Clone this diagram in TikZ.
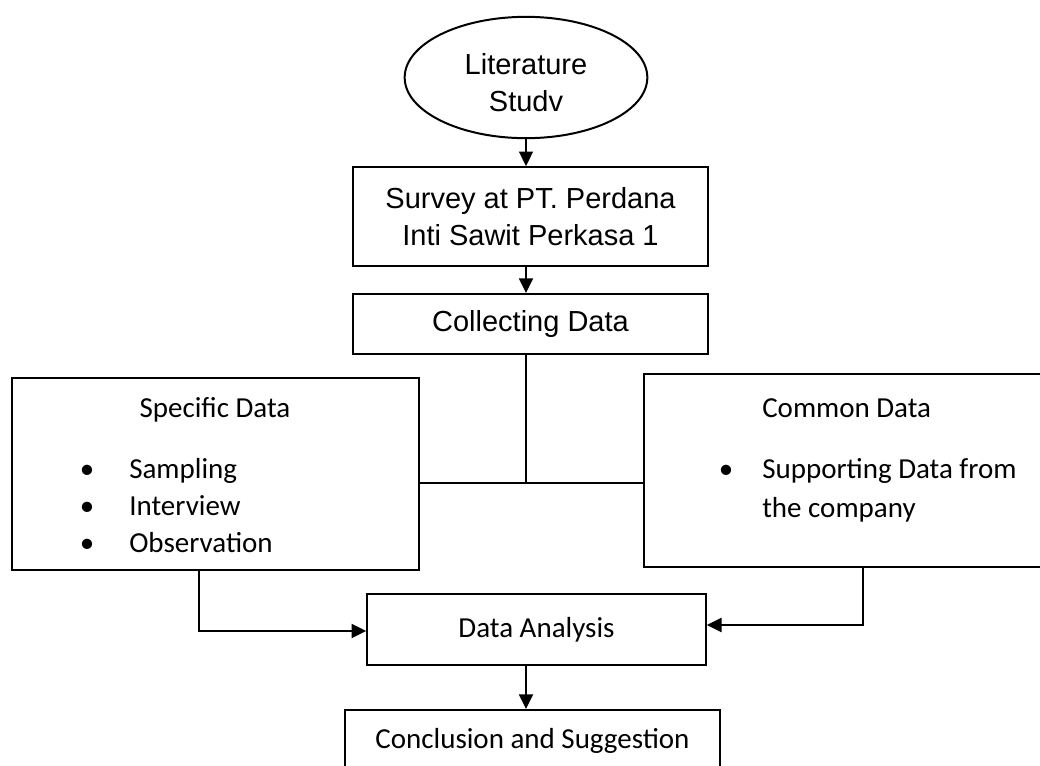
\documentclass[tikz,border=0pt]{standalone}
\usepackage{fontspec}
\setmainfont{Carlito}
\newfontfamily\arialfont{Liberation Sans}
\usetikzlibrary{arrows.meta,shapes.geometric}

\begin{document}
\begin{tikzpicture}[x=0.75pt, y=-0.75pt,
  box/.style={draw, line width=1.5pt, inner sep=0pt},
  txt/.style={inner sep=0pt, font=\fontsize{21.75}{27.75}\selectfont},
  sans/.style={inner sep=0pt, align=center, font=\arialfont\fontsize{21.75}{27.75}\selectfont},
  arr/.style={-{Triangle[length=11pt,width=10.5pt]}, line width=1.2pt},
  thickarr/.style={arr, line width=1.5pt},
  link/.style={line width=0.9pt}]
  \useasboundingbox (0,0) rectangle (1040,765);
  % top chain
  \node[box, ellipse, minimum width=182pt, minimum height=91pt] (lit) at (526,77.5) {};
  \node[sans, yshift=-3.5pt] (littext) at (lit) {Literature\\Studv};
  \node[box, sans, minimum width=266pt, minimum height=74pt] (survey) at (530.5,216.5) {Survey at PT. Perdana\\Inti Sawit Perkasa 1};
  \node[box, sans, minimum width=266pt, minimum height=45pt] (collect) at (530.5,324) {Collecting Data};
  % the two data boxes
  \node[box, minimum width=305pt, minimum height=144pt] (spec) at (215.5,474) {};
  \node[box, minimum width=300pt, minimum height=145pt] (common) at (844,470.5) {};
  \node[txt, anchor=base] (spechead) at (215,417) {Specific Data};
  \foreach \entry [count=\i] in {Sampling, Interview, Observation} {
    \node[txt, anchor=base] (specdot\i) at (87,{441+37*\i}) {\textbullet};
    \node[txt, anchor=base west] (spec\i) at (129,{441+37*\i}) {\entry};
  }
  \node[txt, anchor=base west] (comhead) at (762,417) {Common Data};
  \node[txt, anchor=base] (comdot) at (726,478) {\textbullet};
  \node[txt, anchor=base west] (com1) at (762,478) {Supporting Data from};
  \node[txt, anchor=base west] (com2) at (762,517) {the company};
  % bottom chain
  \node[box, txt, minimum width=254pt, minimum height=53pt] (ana) at (536.5,629.5) {Data Analysis};
  \node[box, txt, minimum width=281pt, minimum height=46.5pt] (concl) at (532.5,741) {Conclusion and Suggestion};
  % connectors
  \draw[arr] (lit.south) -- (lit.south |- survey.north);
  \draw[arr] (lit.south |- survey.south) -- (lit.south |- collect.north);
  \coordinate (jn) at (526,483);
  \draw[link] (lit.south |- collect.south) -- (jn);
  \draw[link] (spec.east |- jn) -- (common.west |- jn);
  \coordinate (sl) at (199,631);
  \draw[thickarr] (spec.south -| sl) |- (ana.west |- sl);
  \coordinate (cr) at (863,625);
  \draw[thickarr] (common.south -| cr) |- (ana.east |- cr);
  \draw[thickarr] (lit.south |- ana.south) -- (lit.south |- concl.north);
\end{tikzpicture}
\end{document}
